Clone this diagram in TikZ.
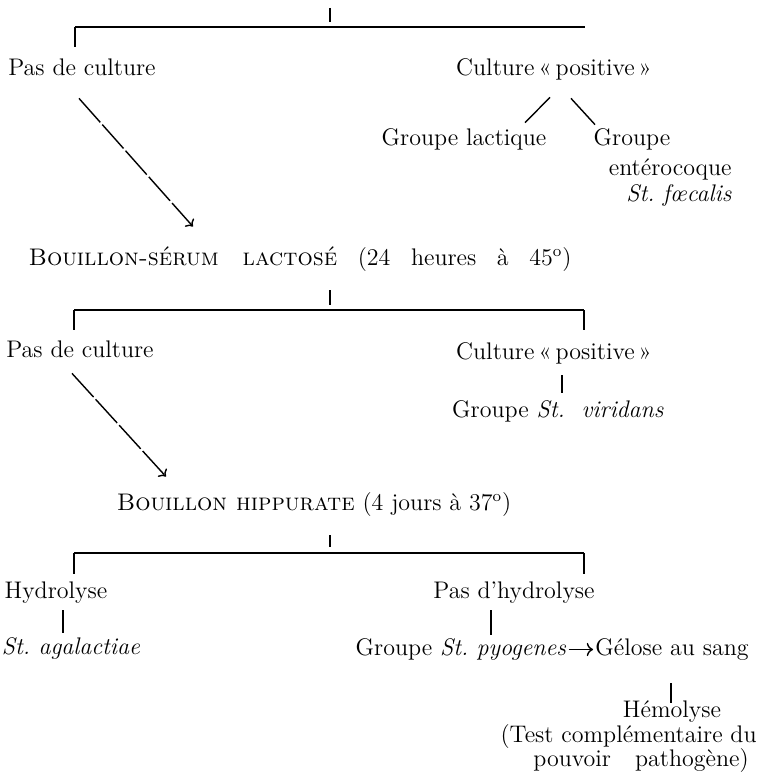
\documentclass[tikz,border=0pt]{standalone}
\usetikzlibrary{arrows.meta,calc}

\tikzset{
  lbl/.style={inner sep=0pt, anchor=base, text height=8pt, text depth=2.5pt,
    font=\fontsize{12}{14}\selectfont},
  bar/.style={line width=1pt},
  link/.style={line width=0.7pt},
  dasharrow/.style={line width=0.7pt, dash pattern=on 16pt off 1.5pt,
    -{To[length=3pt,width=6pt]}}
}

\begin{document}
\begin{tikzpicture}[x=0.5pt,y=-0.5pt]
  \useasboundingbox (0,0) rectangle (758,775);

  % first test
  \coordinate (top1) at (330,8);
  \coordinate (bar1l) at (75,27);
  \coordinate (bar1r) at (585,27);
  \draw[link] (top1) -- ++(0,14);
  \draw[bar] (bar1l) -- (bar1r);
  \draw[link] (bar1l) -- ++(0,20);

  \node[lbl] (pdc1) at (82,76) {Pas de culture};
  \node[lbl] (cp1) at (554,76) {Culture\,«\,positive\,»};
  \node[lbl] (glac) at (464,146) {Groupe lactique};
  \node[lbl] (gent) at (632,146) {Groupe};
  \node[lbl,anchor=base east] (gent2) at (732,176) {entérocoque};
  \node[lbl,anchor=base east] (gent3) at (732,201) {\textit{St.\ fœcalis}};

  \draw[link] ($(cp1.south)+(-4,16)$) -- ($(glac.north)+(61,-7)$);
  \draw[link] ($(cp1.south)+(17,17)$) -- ($(gent.north)+(-37,-5)$);

  \node[lbl] (bsl) at (300,265)
    {\makebox[271.5pt][s]{\textsc{Bouillon-sérum lactosé} (24 heures à 45\textsuperscript{o})}};
  \draw[dasharrow] ($(pdc1.south)+(-3,17)$) -- ($(bsl.north)+(-107,-22)$);

  % second test
  \coordinate (top2) at (330,290);
  \coordinate (bar2l) at (74,310);
  \coordinate (bar2r) at (584,310);
  \draw[link] (top2) -- ++(0,15);
  \draw[bar] (bar2l) -- (bar2r);
  \draw[link] (bar2l) -- ++(0,20);
  \draw[link] (bar2r) -- ++(0,20);

  \node[lbl] (pdc2) at (80,357) {Pas de culture};
  \node[lbl] (cp2) at (554,359) {Culture\,«\,positive\,»};
  \node[lbl] (gsv) at (558,417) {Groupe \textit{St.\ \ viridans}};
  \draw[link] ($(cp2.south)+(8,11)$) -- ($(gsv.north)+(4,-8)$);

  \node[lbl] (bhip) at (314,510) {\textsc{Bouillon hippurate} (4 jours à 37\textsuperscript{o})};
  \draw[dasharrow] ($(pdc2.south)+(-8,11)$) -- ($(bhip.north)+(-148,-17)$);

  % third test
  \coordinate (top3) at (330,535);
  \coordinate (bar3l) at (74,553);
  \coordinate (bar3r) at (584,553);
  \draw[link] (top3) -- ++(0,12);
  \draw[bar] (bar3l) -- (bar3r);
  \draw[link] (bar3l) -- ++(0,21);
  \draw[link] (bar3r) -- ++(0,21);

  \node[lbl] (hyd) at (56,598) {Hydrolyse};
  \node[lbl] (pdh) at (514,598) {Pas d'hydrolyse};
  \node[lbl] (staga) at (71,654) {\textit{St.\ agalactiae}};
  \node[lbl] (gpyo) at (461,655) {Groupe \textit{St.\ pyogenes}};
  \node[lbl] (gelo) at (672,655) {Gélose au sang};
  \node[lbl] (hemo) at (672,717) {Hémolyse};
  \node[lbl,anchor=base east] (test) at (757,742) {(Test complémentaire du};
  \node[lbl] (pouv) at (641,766) {pouvoir\quad pathogène)};

  \draw[link] ($(hyd.south)+(7,7)$) -- ($(staga.north)+(-8,-5)$);
  \draw[link] ($(pdh.south)+(-23,7)$) -- ($(gpyo.north)+(30,-4)$);
  \draw[link,->,shorten <=1pt,shorten >=1pt] (gpyo.east) -- (gelo.west);
  \draw[link] ($(gelo.south)+(-1,23)$) -- ($(hemo.north)+(-1,2)$);

\end{tikzpicture}
\end{document}
